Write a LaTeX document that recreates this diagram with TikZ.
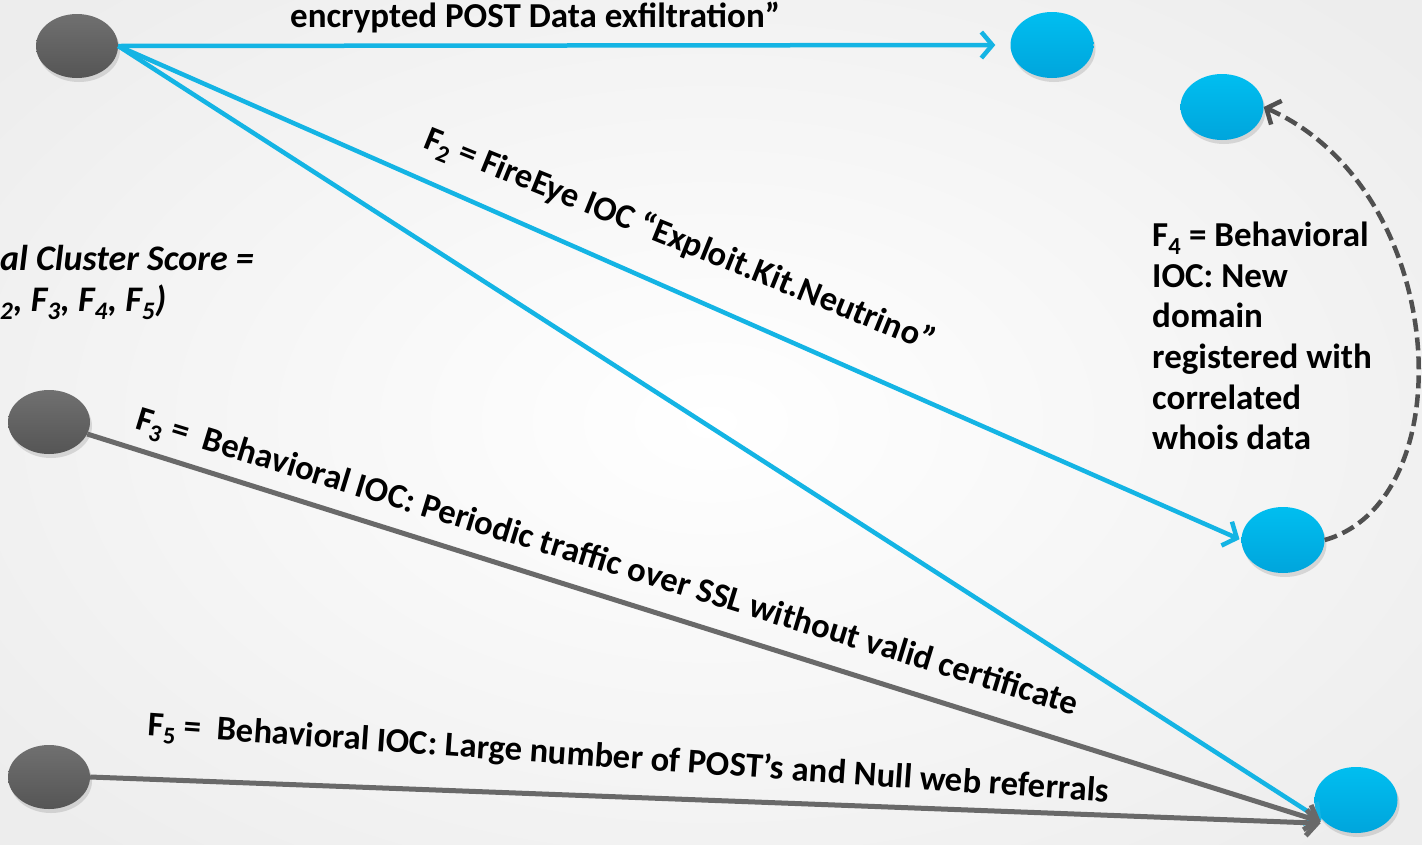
\documentclass[tikz,border=0pt]{standalone}
\usepackage{fontspec}
\setmainfont{Carlito}
\usepackage{xcolor}
\usepackage{tikz}
\usetikzlibrary{arrows.meta,shapes.geometric,shadows}

\definecolor{iocblue}{RGB}{0,190,240}
\definecolor{iocbluedark}{RGB}{0,165,220}
\definecolor{linkblue}{RGB}{20,180,228}
\definecolor{hostgray}{RGB}{112,112,112}
\definecolor{hostgraydark}{RGB}{85,85,85}
\definecolor{linkgray}{RGB}{105,105,105}
\definecolor{dashgray}{RGB}{80,80,80}

\begin{document}
\begin{tikzpicture}[x=1pt,y=-1pt,
  >={Straight Barb[length=11pt,width=26pt]},
  host/.style={ellipse,minimum width=82pt,minimum height=64pt,inner sep=0pt,
    top color=hostgray,bottom color=hostgraydark,
    drop shadow={shadow xshift=2pt,shadow yshift=-4pt,opacity=0.25}},
  ioc/.style={ellipse,minimum width=83pt,minimum height=66pt,inner sep=0pt,
    top color=iocblue,bottom color=iocbluedark,
    drop shadow={shadow xshift=2pt,shadow yshift=-4pt,opacity=0.25}},
  bluelink/.style={->,draw=linkblue,line width=4.5pt},
  graylink/.style={->,draw=linkgray,line width=5pt},
  whois/.style={->,draw=dashgray,line width=4.5pt,dash pattern=on 13pt off 6pt},
  lbl/.style={font=\fontsize{35}{40.6}\selectfont\bfseries,inner sep=0pt},
  tilted/.style={lbl,font=\fontsize{34.6}{40}\selectfont\bfseries,anchor=base west}]

\useasboundingbox (0,0) rectangle (1422,844);
\clip (0,0) rectangle (1422,844);
\fill[inner color=white,outer color=gray!14] (-200,-150) rectangle (1622,994);

\node[host] (A) at (77,46) {};
\node[ioc] (B) at (1052,45) {};
\node[ioc] (C) at (1222,107) {};
\node[ioc] (D) at (1283,540) {};
\node[ioc] (E) at (1356,800) {};
\node[host] (F) at (49,422) {};
\node[host] (G) at (49,777) {};

\path (A.east) edge[bluelink,shorten >=15pt] (B.west);
\path (A.east) edge[bluelink,shorten >=2pt] (D.west);
\path (A.east) edge[bluelink,shorten >=6pt] (E.south west);
\path (F) edge[graylink,shorten >=6pt] (E.south west);
\path (G.east) edge[graylink,shorten >=6pt] (E.south west);
\draw[whois] (D.east) .. controls (1465,500) and (1450,190) .. (C.east);

\node[lbl,anchor=base west] (exfil) at (290,27) {encrypted POST Data exfiltration”};
\node[tilted,rotate=-22] (neutrino) at (422,147)
  {F\textsubscript{2} = FireEye IOC “Exploit.Kit.Neutrino”};
\node[tilted,rotate=-17] (periodic) at (134,428)
  {F\textsubscript{3} = \ Behavioral IOC: Periodic traffic over SSL without valid certificate};
\node[tilted,rotate=-4] (referral) at (147,735)
  {F\textsubscript{5} = \ Behavioral IOC: Large number of POST’s and Null web referrals};
\node[lbl,anchor=north west,align=left] (newdomain) at (1152,222)
  {F\textsubscript{4} = Behavioral\\IOC: New\\domain\\registered with\\correlated\\whois data};
\node[lbl,font=\fontsize{36}{41}\selectfont\bfseries\itshape,anchor=north west,align=left] (score) at (0,245)
  {al Cluster Score =\\\textsubscript{2}, F\textsubscript{3}, F\textsubscript{4}, F\textsubscript{5})};

\end{tikzpicture}
\end{document}
